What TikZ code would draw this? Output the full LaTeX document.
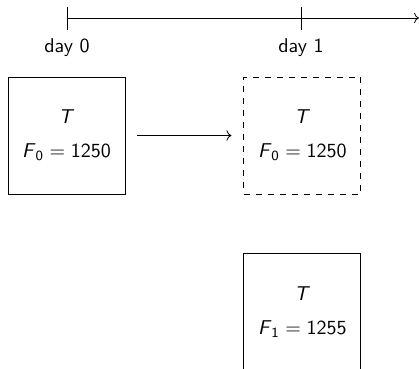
\documentclass[tikz,border=0pt]{standalone}
\usepackage{tikz}
\usetikzlibrary{arrows.meta,positioning}
\renewcommand{\familydefault}{\sfdefault}
\tikzset{
  mybox/.style = {rectangle, draw, minimum size=58.5pt, inner sep=0pt, align=center},
  myghost/.style = {mybox, dashed},
  myarrow/.style = {->, line width=0.4pt},
  mylabel/.style = {inner sep=0pt},
}

\begin{document}
\begin{tikzpicture}[x=0.5pt, y=-0.5pt, node distance=59pt]
\clip (0,0) rectangle (419,369);
% time axis
\coordinate (t0) at (67,18);
\coordinate (t1) at (301,18);
\coordinate (tend) at (419,18);
\draw[myarrow] (t0) -- (tend);
\draw (67,7) -- (67,30);
\draw (301,7) -- (301,30);
\node[mylabel] (d0) at (67,48) {day 0};
\node[mylabel] (d1) at (301,48) {day 1};
% boxes
\node[mybox] (b0) at (66.5,135.5) {\textit{T}\\[5pt]\textit{F}\textsubscript{0}${}={}$1250};
\node[myghost, right=of b0] (b1) {\textit{T}\\[5pt]\textit{F}\textsubscript{0}${}={}$1250};
\node[mybox, below=29.5pt of b1] (b2) {\textit{T}\\[5pt]\textit{F}\textsubscript{1}${}={}$1255};
\draw[myarrow, shorten <=6pt, shorten >=6pt] (b0) -- (b1);
\end{tikzpicture}
\end{document}
